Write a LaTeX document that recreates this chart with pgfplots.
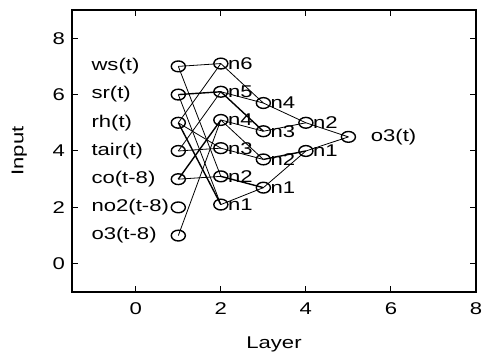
\documentclass[border=0pt]{standalone}
\usepackage{fontspec}
\setmainfont{Liberation Sans}[FakeStretch=1.3]
\usepackage{pgfplots}
\pgfplotsset{compat=1.18}
\pgfplotstableread{
x y label
-1.05 7 ws(t)
-1.05 6 sr(t)
-1.05 5 rh(t)
-1.05 4 tair(t)
-1.05 3 co(t-8)
-1.05 2 no2(t-8)
-1.05 1 o3(t-8)
}\inlabels
\pgfplotstableread{
x y label
2 7.1 n6
2 6.1 n5
2 5.1 n4
2 4.1 n3
2 3.1 n2
2 2.1 n1
3 5.7 n4
3 4.7 n3
3 3.7 n2
3 2.7 n1
4 5.0 n2
4 4.0 n1
}\hidlabels
\begin{document}
\begin{tikzpicture}[font=\fontsize{8.5}{10}\selectfont]
\useasboundingbox (-36pt,-30pt) rectangle (206pt,146pt);
\begin{axis}[
  at={(0,0)}, anchor=south west,
  scale only axis, width=202pt, height=141pt,
  xmin=-1.5, xmax=8, ymin=-1, ymax=9,
  xtick={0,2,4,6,8}, ytick={0,2,4,6,8},
  tick align=inside, major tick length=3pt,
  tick style={black, line width=0.5pt},
  axis line style={line width=0.8pt},
  xlabel={Layer}, ylabel={Input},
  xticklabel style={yshift=-2pt},
  xlabel style={yshift=-4pt},
  ylabel style={yshift=6pt},
  /pgf/number format/assume math mode=true,
  clip=false,
  cycle list={{black, solid, line width=0.7pt, mark=none}},
]
% layer 1 -> layer 2
\addplot coordinates {(1,7) (2,7.1)};
\addplot coordinates {(1,7) (2,3.1)};
\addplot coordinates {(1,6) (2,6.1)};
\addplot coordinates {(1,6) (2,2.1)};
\addplot coordinates {(1,5) (2,7.1)};
\addplot coordinates {(1,5) (2,4.1)};
\addplot coordinates {(1,5) (2,2.1)};
\addplot coordinates {(1,4) (2,6.1)};
\addplot coordinates {(1,4) (2,4.1)};
\addplot coordinates {(1,3) (2,3.1)};
\addplot coordinates {(1,3) (2,5.1)};
\addplot coordinates {(1,1) (2,5.1)};
% layer 2 -> layer 3
\addplot coordinates {(2,7.1) (3,5.7)};
\addplot coordinates {(2,6.1) (3,5.7)};
\addplot coordinates {(2,6.1) (3,4.7)};
\addplot coordinates {(2,5.1) (3,4.7)};
\addplot coordinates {(2,5.1) (3,3.7)};
\addplot coordinates {(2,4.1) (3,3.7)};
\addplot coordinates {(2,3.1) (3,2.7)};
\addplot coordinates {(2,2.1) (3,2.7)};
% layer 3 -> layer 4
\addplot coordinates {(3,5.7) (4,5.0)};
\addplot coordinates {(3,4.7) (4,5.0)};
\addplot coordinates {(3,3.7) (4,4.0)};
\addplot coordinates {(3,2.7) (4,4.0)};
% layer 4 -> output
\addplot coordinates {(4,5.0) (5,4.5)};
\addplot coordinates {(4,4.0) (5,4.5)};
% nodes
\addplot[black, only marks, mark=o, mark size=2.7pt,
  mark options={xscale=1.3, fill=white, draw=black, line width=0.7pt}]
  coordinates {(1,7) (1,6) (1,5) (1,4) (1,3) (1,2) (1,1)
   (2,7.1) (2,6.1) (2,5.1) (2,4.1) (2,3.1) (2,2.1)
   (3,5.7) (3,4.7) (3,3.7) (3,2.7)
   (4,5.0) (4,4.0) (5,4.5)};
% labels
\addplot[only marks, mark=none, nodes near coords, point meta=explicit symbolic,
  nodes near coords style={anchor=west, inner sep=0pt, black}]
  table[meta=label] {\inlabels};
\addplot[only marks, mark=none, nodes near coords, point meta=explicit symbolic,
  nodes near coords style={anchor=west, inner sep=0pt, xshift=3.4pt, black}]
  table[meta=label] {\hidlabels};
\addplot[only marks, mark=none, nodes near coords, point meta=explicit symbolic,
  nodes near coords style={anchor=west, inner sep=0pt, xshift=11pt, black}]
  table[meta=label] {
x y label
5 4.5 o3(t)
};
\end{axis}
\end{tikzpicture}
\end{document}
